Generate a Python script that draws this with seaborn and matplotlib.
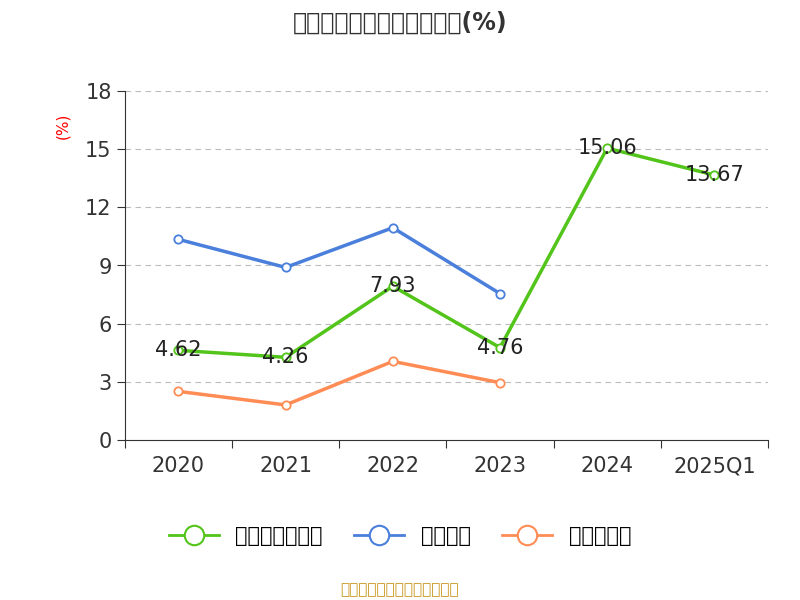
import matplotlib
matplotlib.use("Agg")
import matplotlib.pyplot as plt
import seaborn as sns
import pandas as pd
from matplotlib.lines import Line2D
from matplotlib import font_manager

cjk = [f.name for f in font_manager.fontManager.ttflist if "CJK" in f.name]
cjk_name = next((n for n in cjk if "SC" in n), cjk[0] if cjk else "Noto Sans CJK SC")
plt.rcParams["font.family"] = "sans-serif"
plt.rcParams["font.sans-serif"] = ["DejaVu Sans", cjk_name]

periods = ["2020", "2021", "2022", "2023", "2024", "2025Q1"]
debt_ratio = [4.62, 4.26, 7.93, 4.76, 15.06, 13.67]
industry_avg = [10.35, 8.9, 10.95, 7.55]
industry_median = [2.5, 1.8, 4.05, 2.95]

green, blue, orange = "#52c41a", "#4a7fdc", "#ff8c55"

df = pd.concat([
    pd.DataFrame({"x": range(len(debt_ratio)), "y": debt_ratio, "s": "有息资产负债率"}),
    pd.DataFrame({"x": range(len(industry_avg)), "y": industry_avg, "s": "行业均值"}),
    pd.DataFrame({"x": range(len(industry_median)), "y": industry_median, "s": "行业中位数"}),
])
palette = {"有息资产负债率": green, "行业均值": blue, "行业中位数": orange}

fig = plt.figure(figsize=(8, 6), dpi=100)
ax = fig.add_axes([0.156, 0.267, 0.804, 0.581])
sns.lineplot(data=df, x="x", y="y", hue="s", palette=palette, marker="o",
             markersize=6, markerfacecolor="white", markeredgewidth=1.3,
             linewidth=2.5, legend=False, ax=ax)
for ln in ax.lines:
    ln.set_markeredgecolor(ln.get_color())

for i, v in enumerate(debt_ratio):
    ax.text(i, v, f"{v:.2f}", ha="center", va="center", fontsize=15, color="#222")

ax.set_xlim(-0.5, 5.5)
ax.set_ylim(0, 18)
ax.set_yticks(range(0, 19, 3))
ax.set_xticks([i - 0.5 for i in range(7)])
ax.set_xticklabels([])
ax.set_xticks(range(6), minor=True)
ax.set_xticklabels(periods, minor=True)
ax.tick_params(axis="x", which="minor", length=0, labelsize=15, pad=12, colors="#333")
ax.tick_params(axis="x", which="major", length=6, color="#333")
ax.tick_params(axis="y", labelsize=15, colors="#333", length=6)
ax.grid(axis="y", linestyle=(0, (5, 4)), color="#bbbbbb")
ax.set_xlabel("")
ax.set_ylabel("")
for s in ["top", "right"]:
    ax.spines[s].set_visible(False)
ax.spines["left"].set_color("#333")
ax.spines["bottom"].set_color("#333")

fig.text(0.5, 0.962, "近年来有息资产负债率情况(%)", ha="center", va="center",
         fontsize=17, fontweight="bold", color="#333")
fig.text(0.078, 0.79, "(%)", rotation=90, ha="center", va="center", fontsize=11, color="red")

handles = [Line2D([], [], color=c, linewidth=2, marker="o", markersize=14,
                  markerfacecolor="white", markeredgewidth=1.5) for c in palette.values()]
fig.legend(handles, list(palette.keys()), loc="center", bbox_to_anchor=(0.5, 0.107),
           ncol=3, frameon=False, fontsize=15, handlelength=2.4, columnspacing=1.5)
fig.text(0.5, 0.018, "制图数据来自恒生聚源数据库", ha="center", va="center",
         fontsize=11, color="#c8961e")

fig.savefig("out.png", dpi=100)
